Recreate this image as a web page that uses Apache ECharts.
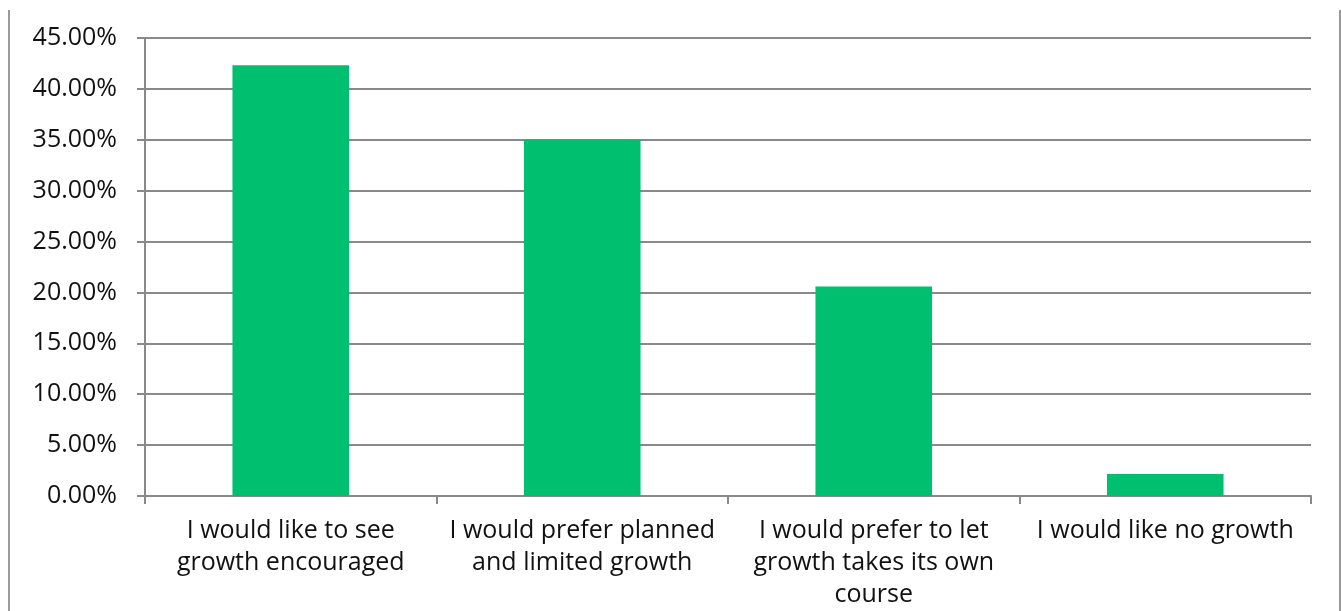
<!DOCTYPE html>
<html>
<head>
<meta charset="utf-8">
<script src="https://cdn.jsdelivr.net/npm/echarts@6/dist/echarts.min.js"></script>
<style>
html,body{margin:0;padding:0;background:#fff;}
#chart{width:1341px;height:611px;}
</style>
</head>
<body>
<div id="chart"></div>
<script>
const categories = [
  "I would like to see\ngrowth encouraged",
  "I would prefer planned\nand limited growth",
  "I would prefer to let\ngrowth takes its own\ncourse",
  "I would like no growth"
];
const values = [42.32, 35.0, 20.59, 2.16];
const yTicks = { min: 0, max: 45, interval: 5 };

const chart = echarts.init(document.getElementById('chart'), null, {renderer: 'canvas'});
const font = '"Open Sans", "Noto Sans", sans-serif';
chart.setOption({
  animation: false,
  grid: { left: 145, right: 30, top: 38, bottom: 114, containLabel: false },
  xAxis: {
    type: 'category',
    data: categories,
    axisLine: { show: true, lineStyle: { color: '#898989', width: 2 } },
    axisTick: { show: true, length: 8, lineStyle: { color: '#898989', width: 2 } },
    axisLabel: { color: '#111', fontFamily: font, fontSize: 25, lineHeight: 32, margin: 19, interval: 0 }
  },
  yAxis: {
    type: 'value',
    min: yTicks.min, max: yTicks.max, interval: yTicks.interval,
    axisLine: { show: true, lineStyle: { color: '#898989', width: 2 } },
    axisTick: { show: true, length: 8, lineStyle: { color: '#898989', width: 2 } },
    splitLine: { show: true, lineStyle: { color: '#898989', width: 2 } },
    axisLabel: { color: '#111', fontFamily: font, fontSize: 25, margin: 28,
      formatter: v => v.toFixed(2) + '%' }
  },
  series: [{
    type: 'bar',
    data: values,
    barWidth: '40%',
    itemStyle: { color: '#00BF6F' }
  }],
  graphic: [
    { type: 'line', shape: { x1: 9, y1: 10, x2: 9, y2: 611 }, style: { stroke: '#9a9a9a', lineWidth: 2 } },
    { type: 'line', shape: { x1: 1340, y1: 10, x2: 1340, y2: 611 }, style: { stroke: '#9a9a9a', lineWidth: 2 } }
  ]
});
</script>
</body>
</html>
